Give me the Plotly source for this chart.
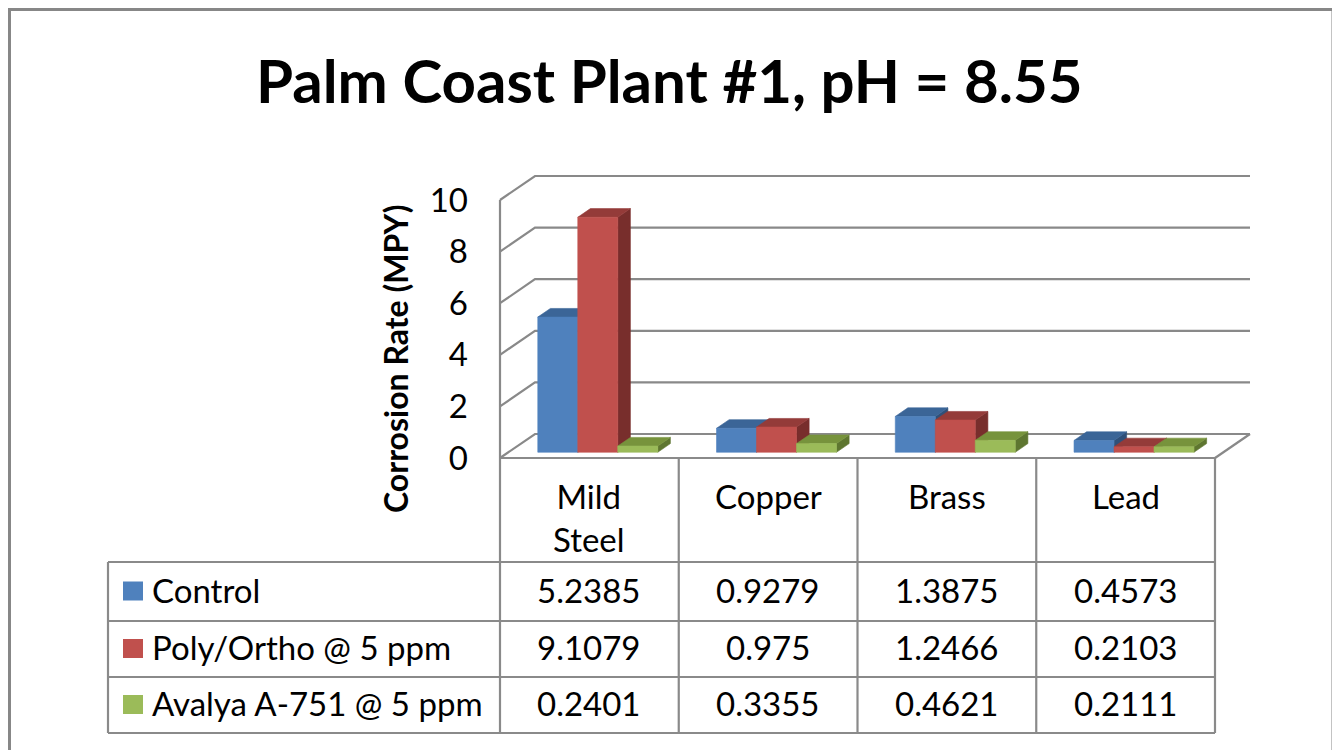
import plotly.graph_objects as go

# ---------------- data ----------------
categories = ["Mild Steel", "Copper", "Brass", "Lead"]
series_names = ["Control", "Poly/Ortho @ 5 ppm", "Avalya A-751 @ 5 ppm"]
control = [5.2385, 0.9279, 1.3875, 0.4573]
poly_ortho = [9.1079, 0.975, 1.2466, 0.2103]
avalya = [0.2401, 0.3355, 0.4621, 0.2111]
y_ticks = [0, 2, 4, 6, 8, 10]
title_text = "Palm Coast Plant #1, pH = 8.55"
y_title = "Corrosion Rate (MPY)"

series_values = [control, poly_ortho, avalya]

# ---------------- styling / geometry ----------------
OFF = 8                      # page body margin offset
W, H = 1340 - OFF, 750 - OFF
FONT = "Lato"
front_cols = ["#4F81BD", "#C0504D", "#9BBB59"]
top_cols = ["#3B6597", "#943B39", "#77933C"]
side_cols = ["#2F5079", "#782E2C", "#5E7630"]
GRID = "#898989"

X0_PX, U = 500.0 - OFF, 178.75   # fig px of category edge -0.5, px per category
Y0_PX, V = 458.0 - OFF, 25.8     # fig px of value 0 (front), px per value unit


def px_to_x(px):
    return (px - X0_PX) / U - 0.5


def py_to_y(py):
    return (Y0_PX - py) / V


def pxp(px):  # page px -> paper
    return (px - OFF) / W


def pyp(py):
    return 1 - (py - OFF) / H


DX = 35 / U          # full depth offset (x units)
DY = 24 / V          # full depth offset (value units)
Z1 = 0.24            # depth of bar front face
ZB = 0.36            # bar depth
BW = 40 / U          # bar width
ncat = len(categories)

fig = go.Figure()

# wall / floor grid lines
gx, gy = [], []
for t in y_ticks:
    gx += [-0.5, -0.5 + DX, ncat - 0.5 + DX, None]
    gy += [t, t + DY, t + DY, None]
gx += [-0.5, -0.5, None, ncat - 0.5, ncat - 0.5 + DX, None]
gy += [0, max(y_ticks), None, 0, DY, None]
fig.add_trace(go.Scatter(x=gx, y=gy, mode="lines",
                         line=dict(color=GRID, width=2.2),
                         hoverinfo="skip", showlegend=False))


def poly(xs, ys, color):
    fig.add_trace(go.Scatter(x=xs + [xs[0]], y=ys + [ys[0]], mode="lines",
                             fill="toself", fillcolor=color,
                             line=dict(color=color, width=0.6),
                             hoverinfo="skip", showlegend=False))


# 3D bars, painted left to right
for c in range(ncat):
    for s, vals in enumerate(series_values):
        v = vals[c]
        xl = c + (s - 1.5) * BW + Z1 * DX
        xr = xl + BW
        b = Z1 * DY
        ddx, ddy = ZB * DX, ZB * DY
        poly([xr, xr + ddx, xr + ddx, xr], [b, b + ddy, b + v + ddy, b + v], side_cols[s])
        poly([xl, xr, xr + ddx, xl + ddx], [b + v, b + v, b + v + ddy, b + v + ddy], top_cols[s])
        poly([xl, xr, xr, xl], [b, b, b + v, b + v], front_cols[s])

shapes = []
annotations = []

# table lines
TL = dict(color="#8A8A8A", width=2.2)
row_lines_px = [562, 621, 677, 733]
left_px = 108
shapes.append(dict(type="line", xref="x", yref="y", x0=-0.5, x1=ncat - 0.5, y0=0, y1=0, line=TL))
for ry in row_lines_px:
    shapes.append(dict(type="line", xref="paper", yref="paper",
                       x0=pxp(left_px), x1=pxp(500 + U * ncat), y0=pyp(ry), y1=pyp(ry), line=TL))
for k in range(ncat + 1):
    shapes.append(dict(type="line", xref="x", yref="paper", x0=k - 0.5, x1=k - 0.5,
                       y0=pyp(458), y1=pyp(row_lines_px[-1]), line=TL))
shapes.append(dict(type="line", xref="paper", yref="paper", x0=pxp(left_px), x1=pxp(left_px),
                   y0=pyp(row_lines_px[0]), y1=pyp(row_lines_px[-1]), line=TL))

# outer frame
shapes.append(dict(type="rect", xref="paper", yref="paper", x0=pxp(9.5), x1=pxp(1333),
                   y0=pyp(9.5), y1=pyp(770), line=dict(color="#878787", width=3)))

TXT = dict(family=FONT, size=33, color="#000000")

# category headers
for c, name in enumerate(categories):
    annotations.append(dict(x=c, xref="x", y=pyp(474), yref="paper",
                            xanchor="center", yanchor="top",
                            text=name.replace(" ", "<br>"), showarrow=False,
                            font=TXT, align="center"))

# rows: legend keys, names, values
for s, name in enumerate(series_names):
    top, bot = row_lines_px[s], row_lines_px[s + 1]
    cy = (top + bot) / 2 - 2
    shapes.append(dict(type="rect", xref="paper", yref="paper",
                       x0=pxp(123), x1=pxp(143), y0=pyp(cy - 8), y1=pyp(cy + 11),
                       fillcolor=front_cols[s], line=dict(width=0)))
    annotations.append(dict(x=pxp(150), xref="paper", y=pyp(cy), yref="paper",
                            xanchor="left", yanchor="middle", text=name,
                            showarrow=False, font=TXT))
    for c in range(ncat):
        annotations.append(dict(x=c, xref="x", y=pyp(cy), yref="paper",
                                xanchor="center", yanchor="middle",
                                text=f"{series_values[s][c]:g}", showarrow=False, font=TXT))

# title and axis title
annotations.append(dict(x=pxp(669), y=pyp(80), xref="paper", yref="paper",
                        xanchor="center", yanchor="middle",
                        text=f"<b>{title_text}</b>", showarrow=False,
                        font=dict(family=FONT, size=60, color="#000000")))
annotations.append(dict(x=pxp(395), y=pyp(359), xref="paper", yref="paper",
                        xanchor="center", yanchor="middle",
                        text=f"<b>{y_title}</b>", textangle=-90, showarrow=False,
                        font=dict(family=FONT, size=32, color="#000000")))

fig.update_layout(
    width=W, height=H, autosize=False,
    margin=dict(l=0, r=0, t=0, b=0, pad=0),
    paper_bgcolor="white", plot_bgcolor="white",
    showlegend=False,
    xaxis=dict(range=[px_to_x(0), px_to_x(W)], visible=False, fixedrange=True),
    yaxis=dict(range=[py_to_y(H), py_to_y(0)], anchor="free", position=pxp(468),
               tickmode="array", tickvals=y_ticks, ticktext=[str(t) for t in y_ticks],
               showgrid=False, zeroline=False, showline=False, ticks="",
               tickfont=dict(family=FONT, size=33, color="#000000"), fixedrange=True),
    shapes=shapes,
    annotations=annotations,
)

fig.write_html("out.html")
